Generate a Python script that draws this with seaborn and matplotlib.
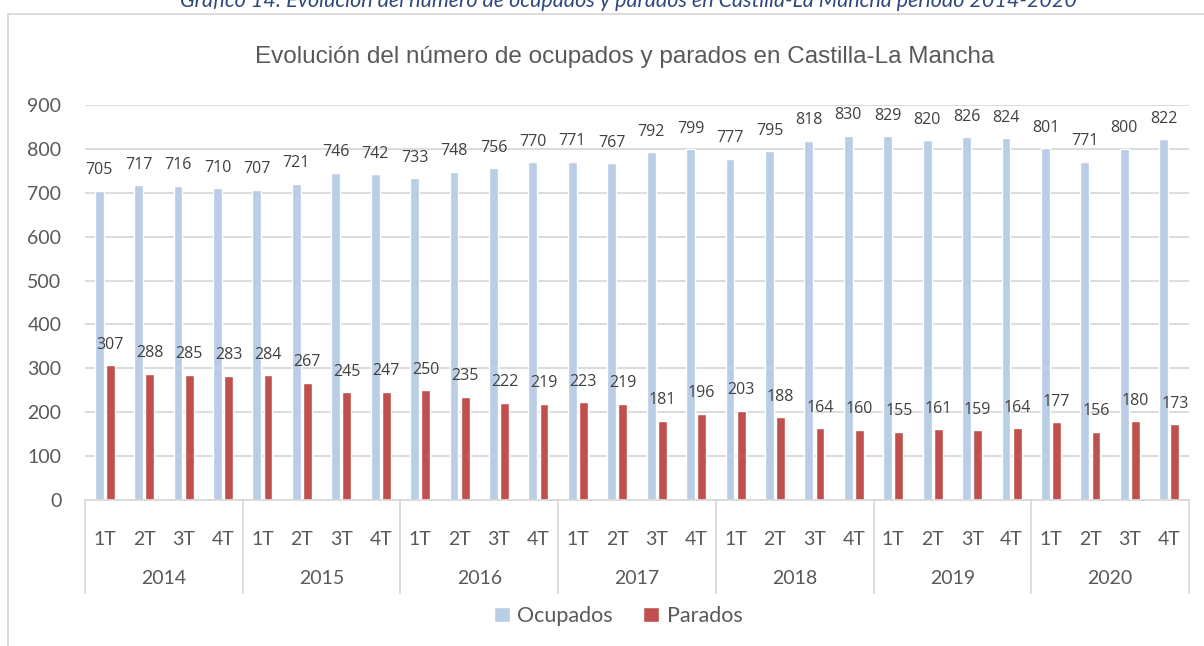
import numpy as np
import pandas as pd
import matplotlib
matplotlib.use('Agg')
import matplotlib.pyplot as plt
import matplotlib.transforms as mtransforms
import seaborn as sns

# Data (miles de personas)
years = ['2014', '2015', '2016', '2017', '2018', '2019', '2020']
quarters = ['1T', '2T', '3T', '4T']
ocupados = [705, 717, 716, 710, 707, 721, 746, 742, 733, 748, 756, 770, 771, 767,
            792, 799, 777, 795, 818, 830, 829, 820, 826, 824, 801, 771, 800, 822]
parados = [307, 288, 285, 283, 284, 267, 245, 247, 250, 235, 222, 219, 223, 219,
           181, 196, 203, 188, 164, 160, 155, 161, 159, 164, 177, 156, 180, 173]
series_names = ['Ocupados', 'Parados']
colors = ['#b9cde5', '#c0504d']

periods = [f'{y}-{q}' for y in years for q in quarters]
df = pd.DataFrame({
    'periodo': periods * 2,
    'serie': [series_names[0]] * len(periods) + [series_names[1]] * len(periods),
    'valor': ocupados + parados,
})

sns.set_theme(style='white')
plt.rcParams['font.family'] = ['Lato', 'DejaVu Sans']
text_col = '#595959'
grid_col = '#d9d9d9'

fig = plt.figure(figsize=(12.04, 6.46), dpi=100)
ax = fig.add_axes([85 / 1204, 1 - 500 / 646, (1189 - 85) / 1204, (500 - 105) / 646])

sns.barplot(data=df, x='periodo', y='valor', hue='serie', palette=colors,
            width=0.56, gap=0.2, ax=ax, legend=True, saturation=1)

ax.set_ylim(0, 900)
ax.set_xlim(-0.5, len(periods) - 0.5)
ax.set_yticks(range(0, 901, 100))
ax.yaxis.grid(True, color=grid_col, linewidth=1.3)
ax.set_axisbelow(True)
for s in ['top', 'right', 'left']:
    ax.spines[s].set_visible(False)
ax.spines['bottom'].set_color(grid_col)
ax.spines['bottom'].set_linewidth(1.3)
ax.set_xlabel('')
ax.set_ylabel('')
ax.set_xticks(range(len(periods)))
ax.set_xticklabels(quarters * len(years))
ax.tick_params(axis='x', length=0, pad=22, labelsize=14, labelcolor=text_col)
ax.tick_params(axis='y', length=0, pad=17, labelsize=14, labelcolor=text_col)

for cont in ax.containers:
    ax.bar_label(cont, padding=9, fontsize=11.5, color='#404040',
                 family=['Open Sans', 'DejaVu Sans'])

# year labels and separators under the axis
trans = mtransforms.blended_transform_factory(ax.transData, ax.transAxes)
y_sep = -(593 - 500) / 395
for i, yr in enumerate(years):
    center = i * len(quarters) + (len(quarters) - 1) / 2
    ax.text(center, -(578 - 500) / 395, yr, transform=trans, ha='center', va='center',
            fontsize=14, color=text_col)
for i in range(len(years) + 1):
    xpos = i * len(quarters) - 0.5
    ax.plot([xpos, xpos], [0, y_sep], transform=trans, color=grid_col,
            linewidth=1.3, clip_on=False)

# legend
handles, labels = ax.get_legend_handles_labels()
ax.legend(handles, labels, loc='center', bbox_to_anchor=(618 / 1204, 1 - 616 / 646),
          bbox_transform=fig.transFigure, ncol=2, frameon=False, fontsize=15.5,
          handlelength=0.75, handleheight=0.75, handletextpad=0.35, columnspacing=1.4,
          labelcolor=text_col)

fig.text(0.5187, 1 - 57 / 646, 'Evolución del número de ocupados y parados en Castilla-La Mancha',
         ha='center', va='center', fontsize=17.5, color=text_col,
         family=['Liberation Sans Narrow', 'Liberation Sans', 'DejaVu Sans'])

# caption cut off at top (as in the source image)
fig.text(0.522, 1 - 7 / 646,
         'Gráfico 14: Evolución del número de ocupados y parados en Castilla-La Mancha período 2014-2020',
         ha='center', va='baseline', fontsize=15.5, style='italic', color='#2e4a7d')

# chart frame
fig.add_artist(plt.Line2D([8 / 1204, 8 / 1204], [0, 1 - 14 / 646], transform=fig.transFigure,
                          color=grid_col, linewidth=1.3))
fig.add_artist(plt.Line2D([8 / 1204, 1], [1 - 14 / 646, 1 - 14 / 646], transform=fig.transFigure,
                          color=grid_col, linewidth=1.3))

fig.savefig('out.png', dpi=100)
